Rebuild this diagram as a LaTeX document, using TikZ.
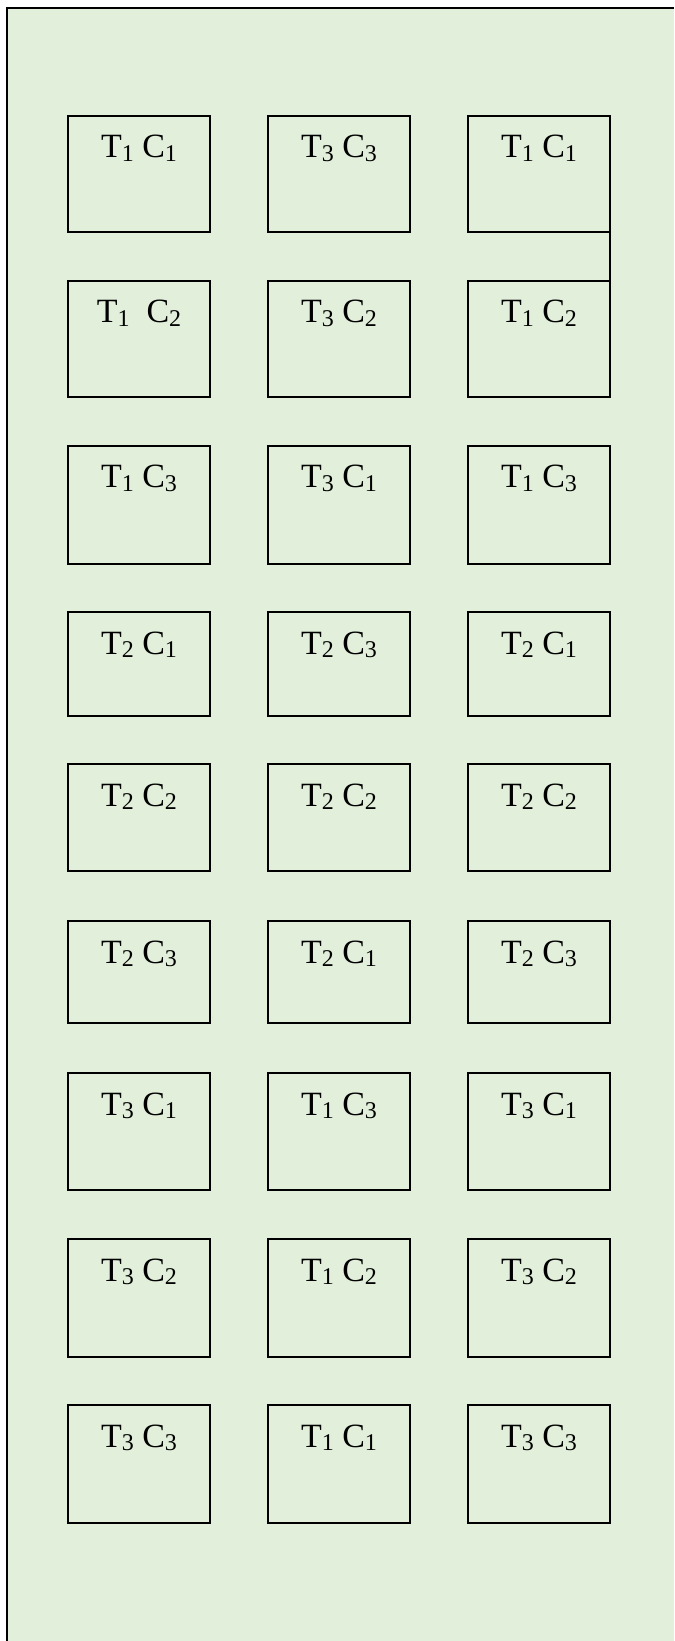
\documentclass[tikz,border=0pt]{standalone}
\usepackage{fontspec}
\setmainfont{Liberation Serif}
\definecolor{fieldgreen}{HTML}{E2EFDA}
% treatment / concentration labels, digits set small and slightly lowered
\newcommand{\tsub}[1]{\raisebox{-0.1em}{\fontsize{12}{12}\selectfont #1}}
\newcommand{\tc}[2]{T\tsub{#1} C\tsub{#2}}
\newcommand{\tcw}[2]{T\tsub{#1}\ \ C\tsub{#2}}

\begin{document}
\begin{tikzpicture}[x=0.5pt, y=-0.5pt, line width=1pt,
    plot/.style={draw, rectangle, anchor=north west, inner sep=0pt,
                 outer sep=0pt, minimum width=71pt, text height=21pt,
                 font=\fontsize{17}{20}\selectfont}]
  % page: 674 x 1641 px, field runs off the right and bottom edges
  \useasboundingbox (0,0) rectangle (674,1641);
  \fill[fieldgreen] (7,8) rectangle (674,1641);
  \draw (7,1641) -- (7,8) -- (674,8);

  % ---- Plots: row / top / bottom / three labels ----
  \foreach \r/\yt/\yb/\la/\lb/\lc in {
      1/116/232/\tc11/\tc33/\tc11,
      2/281/397/\tcw12/\tc32/\tc12,
      3/446/564/\tc13/\tc31/\tc13,
      4/612/716/\tc21/\tc23/\tc21,
      5/764/871/\tc22/\tc22/\tc22,
      6/921/1023/\tc23/\tc21/\tc23,
      7/1073/1190/\tc31/\tc13/\tc31,
      8/1239/1357/\tc32/\tc12/\tc32,
      9/1405/1523/\tc33/\tc11/\tc33} {
    \pgfmathsetmacro\td{(\yb-\yt-42)*0.5}
    \foreach \c/\x/\l in {1/68/\la, 2/268/\lb, 3/468/\lc}
      \node[plot, text depth=\td pt] (b\r\c) at (\x,\yt) {\l};
  }

  % link between the two top plots of the right column
  \draw (b13.south east) -- (b23.north east);
\end{tikzpicture}
\end{document}
